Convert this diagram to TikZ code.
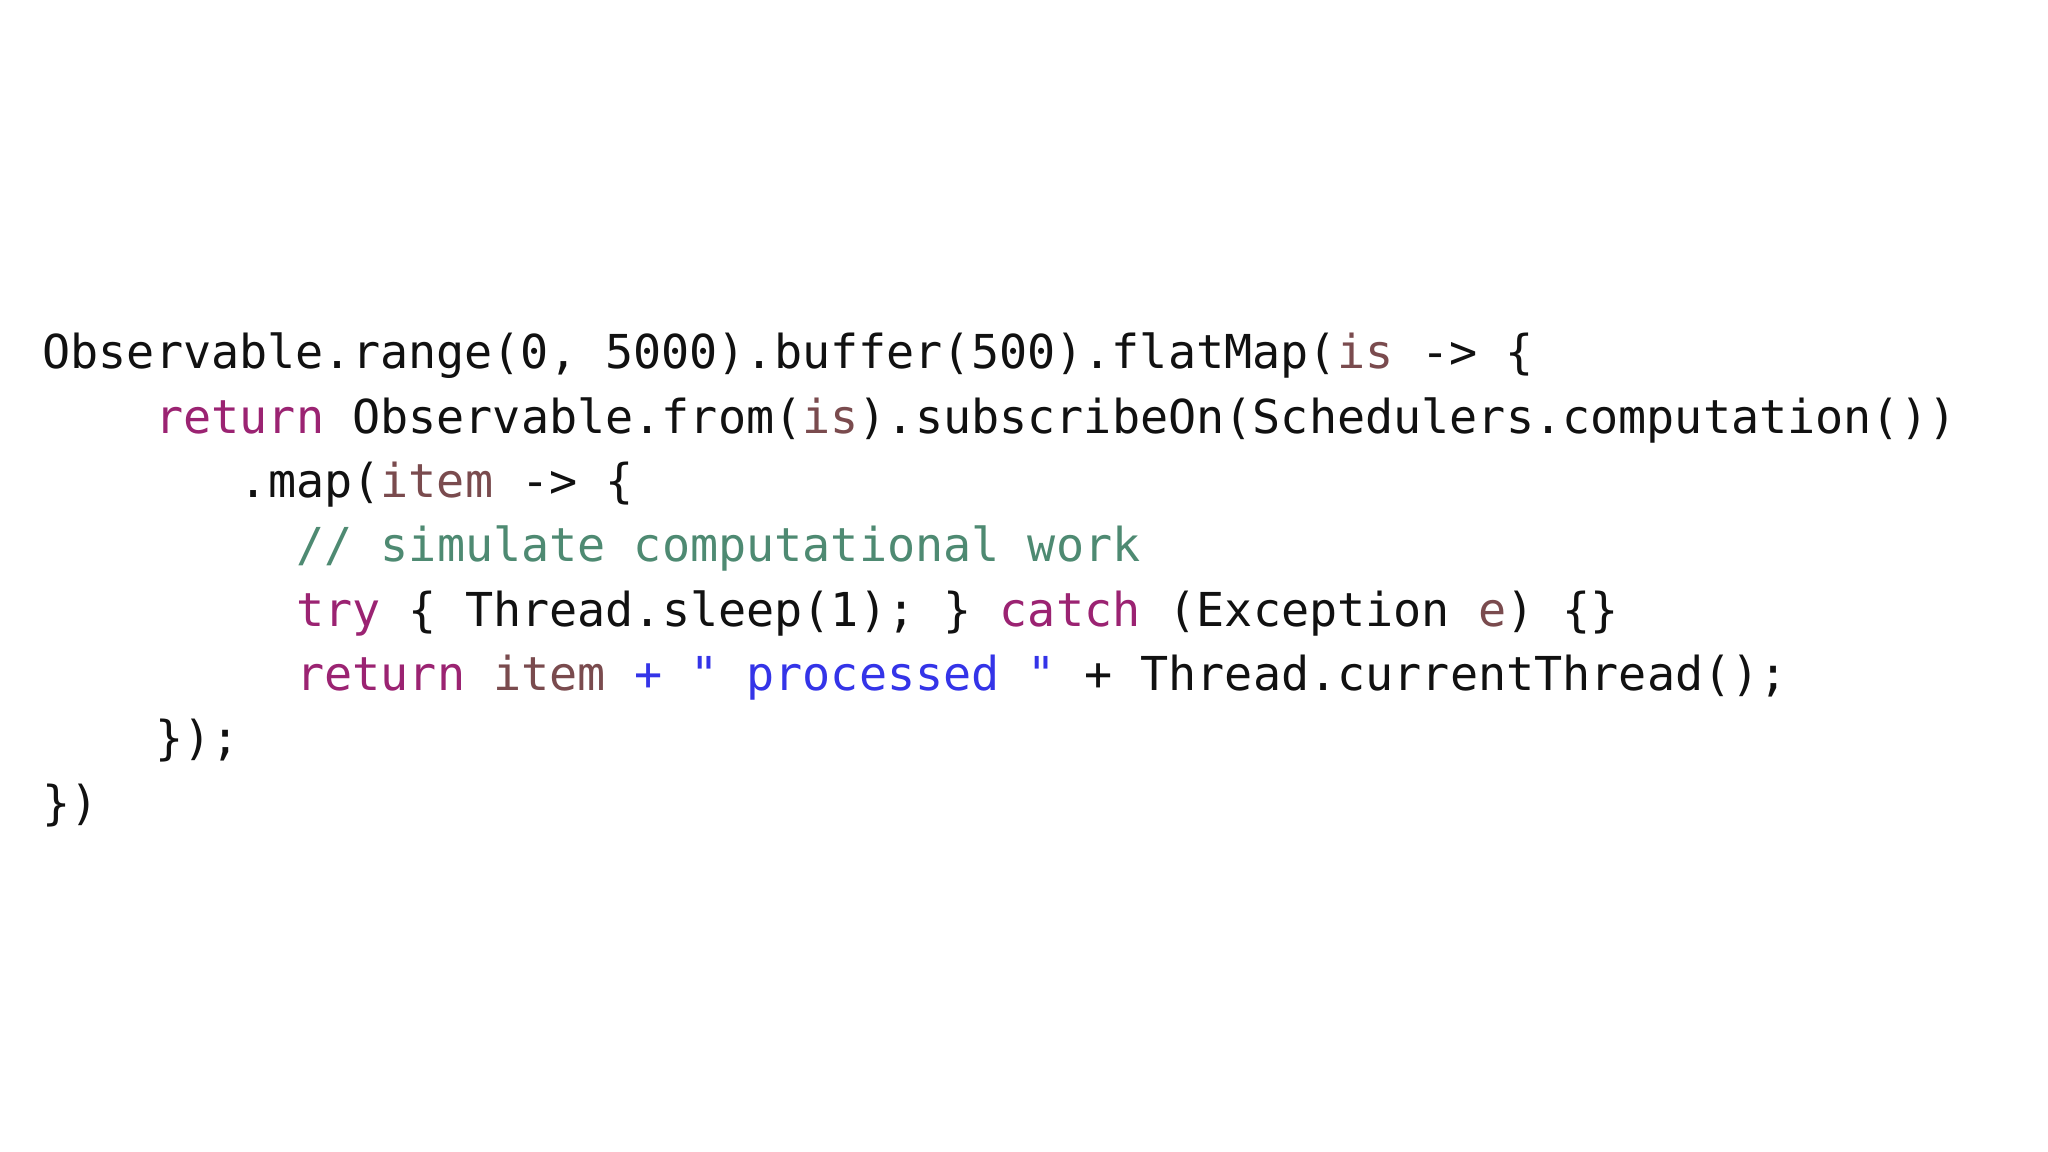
\documentclass[tikz,border=0pt]{standalone}
\usepackage{fontspec}
\setmonofont{DejaVu Sans Mono}
\definecolor{kwc}{HTML}{9B2372}
\definecolor{varc}{HTML}{7A4B4E}
\definecolor{cmc}{HTML}{4E8A72}
\definecolor{strc}{HTML}{3434E8}
\definecolor{txc}{HTML}{111111}
\newcommand\kw[1]{\textcolor{kwc}{#1}}
\newcommand\vr[1]{\textcolor{varc}{#1}}
\newcommand\cm[1]{\textcolor{cmc}{#1}}
\newcommand\st[1]{\textcolor{strc}{#1}}
\begin{document}
\begin{tikzpicture}[codeline/.style={anchor=base west,inner sep=0pt,font=\ttfamily\fontsize{13.3pt}{16pt}\selectfont,text=txc}]
\useasboundingbox (0,0) rectangle (20.48,11.52);
\fill[white] (0,0) rectangle (20.48,11.52);
\def\cw{0.282}
\def\xo{0.418}
\node[codeline] (l1) at (\xo,7.83) {Observable.range(0, 5000).buffer(500).flatMap(\vr{is} -> \{};
\node[codeline] (l2) at (\xo+4*\cw,7.187) {\kw{return} Observable.from(\vr{is}).subscribeOn(Schedulers.computation())};
\node[codeline] (l3) at (\xo+7*\cw,6.544) {.map(\vr{item} -> \{};
\node[codeline] (l4) at (\xo+9*\cw,5.901) {\cm{// simulate computational work}};
\node[codeline] (l5) at (\xo+9*\cw,5.258) {\kw{try} \{ Thread.sleep(1); \} \kw{catch} (Exception \vr{e}) \{\}};
\node[codeline] (l6) at (\xo+9*\cw,4.615) {\kw{return} \vr{item} \st{+ " processed "} + Thread.currentThread();};
\node[codeline] (l7) at (\xo+4*\cw,3.972) {\});};
\node[codeline] (l8) at (\xo,3.329) {\})};
\end{tikzpicture}
\end{document}
